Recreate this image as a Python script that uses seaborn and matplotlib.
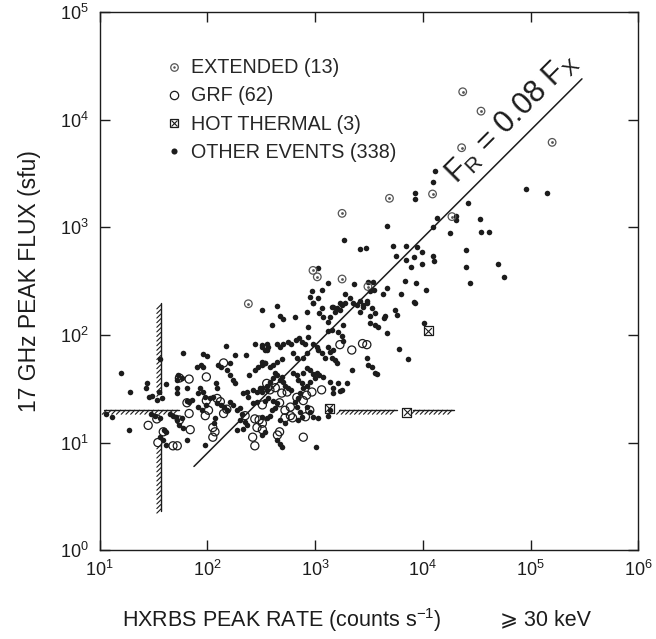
import numpy as np
import matplotlib
matplotlib.use("Agg")
import matplotlib.pyplot as plt
import matplotlib.patheffects as pe
from matplotlib.lines import Line2D
import seaborn as sns

# values, stored as log10 of
# HXRBS peak rate (counts/s) and 17 GHz peak flux (sfu)
OTHER_LOG_RATE = [
    1.20, 1.28, 1.27, 1.11, 1.06, 1.44, 1.43, 1.46, 1.49, 1.53,
    1.55, 1.58, 1.56, 1.62, 1.48, 1.51, 1.56, 1.77, 1.73, 1.76,
    1.72, 1.72, 1.72, 1.81, 1.81, 1.83, 1.86, 1.65, 1.68, 1.71,
    1.72, 1.76, 1.74, 1.77, 1.60, 1.62, 1.56, 1.59, 1.62, 1.81,
    1.98, 1.96, 2.00, 1.90, 1.94, 1.96, 2.17, 2.26, 2.36, 2.44,
    2.51, 2.55, 2.10, 2.13, 2.18, 2.21, 2.24, 2.26, 2.21, 2.08,
    2.09, 1.93, 1.96, 1.91, 1.98, 2.02, 2.05, 1.91, 1.95, 1.99,
    2.09, 2.13, 2.15, 2.21, 2.24, 2.18, 2.27, 2.32, 2.30, 2.33,
    2.37, 2.38, 2.39, 2.44, 2.47, 2.51, 2.53, 2.42, 2.46, 2.49,
    2.51, 2.55, 2.42, 2.46, 2.07, 2.06, 2.27, 2.33, 2.37, 2.30,
    2.35, 2.53, 2.56,
    2.65, 2.51, 2.60, 2.67, 2.70, 2.81, 2.92, 2.98, 3.06, 3.04,
    3.07, 3.16, 3.18, 3.14, 3.12, 3.25, 3.23, 3.28, 3.39, 3.42,
    3.44, 3.48, 3.53, 3.56, 3.51, 3.65, 3.64, 3.74, 3.76, 3.93,
    3.51, 3.56, 3.58, 3.67, 4.01, 3.26, 3.21, 3.16, 3.12, 3.25,
    3.26, 2.93,
    2.51, 2.53, 2.56, 2.55, 2.65, 2.67, 2.70, 2.75, 2.78, 2.82,
    2.85, 2.88, 2.91, 2.93, 2.98, 3.02, 3.03, 3.06, 3.09, 3.12,
    3.14, 3.17, 3.16, 3.18, 3.20, 2.79, 2.83, 2.89, 2.92, 2.65,
    2.61, 2.58, 2.53, 2.51, 2.69,
    2.79, 2.83, 2.89, 2.92, 2.95, 2.98, 3.02, 3.04, 3.07, 2.63,
    2.65, 2.67, 2.69, 2.70, 2.61, 2.58, 2.55, 2.51, 2.72, 2.75,
    2.78, 2.84, 2.88, 2.89, 2.86, 2.84, 2.92, 2.95, 3.00, 2.81,
    2.83, 2.86, 2.88, 2.84, 2.92, 2.95, 2.98, 3.03, 2.61, 2.65,
    2.63, 2.60, 2.58, 2.55, 2.51, 2.67, 2.72, 2.51, 2.53, 2.65,
    2.67, 2.69, 3.01, 3.14, 3.17, 3.21, 3.25, 3.30, 3.34, 3.48,
    3.49, 3.53, 3.56, 3.57, 3.78, 3.86, 3.12, 3.14, 3.23, 3.17,
    4.11, 4.09, 3.93, 3.93, 4.13, 4.09, 3.67, 3.27, 3.42, 3.47,
    3.72, 3.84, 3.75, 3.84, 3.89, 3.92, 3.99, 3.99, 4.09, 4.10,
    3.03, 3.12, 3.36, 3.54, 3.55, 3.67, 3.63, 3.83, 3.94, 3.80,
    3.92, 4.03, 2.97, 3.06, 2.95, 2.98, 3.03, 3.28, 3.23, 3.32,
    3.35, 3.42, 3.44, 3.48, 3.17, 3.20, 4.42, 4.96, 5.15, 4.31,
    4.31, 4.53, 4.25, 4.54, 4.61, 4.40, 4.40, 4.70, 4.75, 4.44,
    3.49, 3.51, 3.95,
]
OTHER_LOG_FLUX = [
    1.65, 1.47, 1.12, 1.24, 1.27, 1.55, 1.51, 1.42, 1.43, 1.40,
    1.47, 1.41, 1.78, 1.54, 1.27, 1.25, 1.23, 1.83, 1.63, 1.60,
    1.58, 1.46, 1.51, 1.51, 1.39, 1.38, 1.40, 1.27, 1.25, 1.24,
    1.21, 1.23, 1.16, 1.14, 1.12, 1.10, 1.05, 1.02, 0.98, 1.02,
    0.98, 1.82, 1.80, 1.70, 1.72, 1.70, 1.90, 1.81, 1.81, 1.92,
    1.89, 1.86, 1.72, 1.70, 1.67, 1.63, 1.58, 1.55, 1.74, 1.55,
    1.51, 1.51, 1.47, 1.46, 1.42, 1.41, 1.42, 1.33, 1.30, 1.35,
    1.37, 1.35, 1.33, 1.38, 1.35, 1.30, 1.30, 1.27, 1.32, 1.46,
    1.47, 1.42, 1.63, 1.67, 1.70, 1.72, 1.74, 1.49, 1.47, 1.51,
    1.47, 1.49, 1.37, 1.38, 1.23, 1.18, 1.12, 1.13, 1.16, 1.21,
    1.19, 1.39, 1.41,
    2.27, 2.23, 2.09, 2.18, 2.15, 2.17, 2.21, 2.30, 2.25, 2.20,
    2.17, 2.26, 2.21, 2.17, 2.12, 2.28, 2.23, 2.30, 2.28, 2.21,
    2.26, 2.30, 2.25, 2.20, 2.18, 2.18, 2.16, 2.23, 2.19, 2.30,
    2.11, 2.09, 2.07, 2.02, 2.11, 2.09, 2.03, 2.05, 2.04, 1.99,
    1.94, 2.07,
    1.91, 1.86, 1.89, 1.92, 1.92, 1.89, 1.92, 1.93, 1.92, 1.95,
    1.97, 1.93, 1.92, 1.98, 1.92, 1.89, 1.86, 1.83, 1.79, 1.89,
    1.84, 1.86, 1.79, 1.77, 1.74, 1.83, 1.79, 1.79, 1.83, 1.75,
    1.72, 1.70, 1.74, 1.75, 1.78,
    1.65, 1.63, 1.65, 1.69, 1.67, 1.64, 1.65, 1.63, 1.61, 1.65,
    1.63, 1.58, 1.61, 1.56, 1.60, 1.56, 1.53, 1.51, 1.53, 1.51,
    1.49, 1.58, 1.55, 1.51, 1.46, 1.41, 1.53, 1.56, 1.60, 1.38,
    1.33, 1.28, 1.24, 1.21, 1.33, 1.28, 1.24, 1.23, 1.39, 1.37,
    1.32, 1.30, 1.25, 1.23, 1.24, 1.21, 1.18, 1.07, 1.10, 1.02,
    0.99, 0.96, 0.96, 1.56, 1.51, 1.55, 1.49, 1.55, 1.67, 1.79,
    1.72, 1.70, 1.65, 1.64, 1.87, 1.78, 1.25, 1.30, 1.48, 1.46,
    3.52, 3.42, 3.32, 3.26, 3.09, 3.00, 3.01, 2.88, 2.80, 2.81,
    2.83, 2.83, 2.73, 2.70, 2.63, 2.72, 2.77, 2.66, 2.73, 2.69,
    2.62, 2.48, 2.47, 2.49, 2.42, 2.44, 2.38, 2.50, 2.48, 2.38,
    2.31, 2.42, 2.41, 2.42, 2.35, 2.30, 2.34, 2.38, 2.30, 2.34,
    2.30, 2.32, 2.28, 2.32, 2.26, 2.25, 3.23, 3.36, 3.32, 3.11,
    3.07, 3.08, 2.95, 2.96, 2.96, 2.79, 2.63, 2.66, 2.54, 2.48,
    2.49, 2.41, 2.82,
]

GRF_LOG_RATE = [
    1.83, 1.74, 1.99, 2.15, 1.81, 1.83, 1.45, 1.53, 1.59, 1.54,
    1.68, 1.72, 1.74, 1.84, 1.99, 2.01, 2.09, 2.12, 1.98, 2.05,
    2.07, 2.05, 2.15, 2.18, 2.35, 2.44, 2.48, 2.51, 2.46, 2.51,
    2.42, 2.44, 2.51, 3.23, 3.34, 3.44, 3.48, 3.06, 2.97, 2.55,
    2.58, 2.63, 2.69, 2.74, 2.67, 2.72, 2.77, 2.83, 2.89, 2.92,
    2.72, 2.77, 2.79, 2.91, 2.95, 2.67, 2.65, 2.89,
]
GRF_LOG_FLUX = [
    1.59, 1.60, 1.61, 1.74, 1.37, 1.27, 1.16, 1.22, 1.10, 1.00,
    0.97, 0.97, 1.21, 1.12, 1.39, 1.30, 1.41, 1.38, 1.25, 1.14,
    1.10, 1.05, 1.27, 1.31, 1.25, 1.22, 1.21, 1.18, 1.14, 1.12,
    1.05, 0.97, 1.35, 1.91, 1.86, 1.92, 1.91, 1.49, 1.47, 1.55,
    1.49, 1.51, 1.46, 1.47, 1.37, 1.30, 1.33, 1.42, 1.39, 1.44,
    1.23, 1.25, 1.23, 1.24, 1.30, 1.10, 1.07, 1.05,
]

EXT_LOG_RATE = [4.37, 4.54, 4.36, 5.20, 3.25, 3.69, 4.09, 4.27, 2.98, 3.02,
                3.25, 3.49, 2.38]
EXT_LOG_FLUX = [4.26, 4.08, 3.74, 3.79, 3.13, 3.27, 3.31, 3.10, 2.60, 2.54,
                2.52, 2.45, 2.29]

HOT_LOG_RATE = [3.13, 3.85, 4.05]
HOT_LOG_FLUX = [1.32, 1.28, 2.04]

LEGEND_LABELS = ["EXTENDED (13)", "GRF (62)", "HOT THERMAL (3)",
                 "OTHER EVENTS (338)"]

# Fr = 0.08 Fx
RATIO = 0.08
FIT_RATE = [75, 3.0e5]

# detection limits (hatched)
LIMIT_FLUX = 20
LIMIT_RATE = 37
H_LIMITS = [[11, 55], [1650, 5700], [8100, 19500]]
V_LIMITS = [[2.3, 10], [28, 200]]

INK = "#1c1c1c"


def to_lin(vals):
    ''' log10 values -> linear '''
    return 10 ** np.array(vals)


def main():
    sns.set_style("ticks")
    plt.rcParams["font.family"] = ["Liberation Sans", "DejaVu Sans"]
    plt.rcParams["mathtext.default"] = "regular"

    fig = plt.figure(figsize=(6.56, 6.39), dpi=100)
    ax = fig.add_axes([0.152, 0.139, 0.821, 0.842])
    ax.set_xscale("log")
    ax.set_yscale("log")
    ax.set_xlim(10, 1e6)
    ax.set_ylim(1, 1e5)

    # hatched limit lines
    for seg in H_LIMITS:
        ax.plot(seg, [LIMIT_FLUX, LIMIT_FLUX], color=INK, lw=1.0,
                path_effects=[pe.withTickedStroke(angle=-135, spacing=3.2,
                                                  length=1.3, linewidth=0.8)])
    for seg in V_LIMITS:
        ax.plot([LIMIT_RATE, LIMIT_RATE], seg, color=INK, lw=1.0,
                path_effects=[pe.withTickedStroke(angle=135, spacing=3.2,
                                                  length=1.3, linewidth=0.8)])

    # fit line
    fit_x = np.array(FIT_RATE)
    ax.plot(fit_x, RATIO * fit_x, color=INK, lw=1.1)

    sns.scatterplot(x=to_lin(OTHER_LOG_RATE), y=to_lin(OTHER_LOG_FLUX),
                    ax=ax, color=INK, s=16, marker="o", linewidth=0)
    sns.scatterplot(x=to_lin(GRF_LOG_RATE), y=to_lin(GRF_LOG_FLUX),
                    ax=ax, color="none", edgecolor=INK, s=34, marker="o",
                    linewidth=0.9)
    sns.scatterplot(x=to_lin(EXT_LOG_RATE), y=to_lin(EXT_LOG_FLUX),
                    ax=ax, color="none", edgecolor="#555555", s=30,
                    marker="o", linewidth=0.9)
    sns.scatterplot(x=to_lin(EXT_LOG_RATE), y=to_lin(EXT_LOG_FLUX),
                    ax=ax, color="#555555", s=4, marker="o", linewidth=0)
    sns.scatterplot(x=to_lin(HOT_LOG_RATE), y=to_lin(HOT_LOG_FLUX),
                    ax=ax, color="none", edgecolor=INK, s=42, marker="s",
                    linewidth=0.9)
    sns.scatterplot(x=to_lin(HOT_LOG_RATE), y=to_lin(HOT_LOG_FLUX),
                    ax=ax, color=INK, s=24, marker="x", linewidth=0.8)

    # legend
    h_ext = (Line2D([], [], ls="", marker="o", ms=5.4, mfc="none",
                    mec="#555555", mew=0.9),
             Line2D([], [], ls="", marker="o", ms=1.8, mfc="#555555",
                    mec="none"))
    h_grf = Line2D([], [], ls="", marker="o", ms=6.0, mfc="none", mec=INK,
                   mew=0.9)
    h_hot = (Line2D([], [], ls="", marker="s", ms=6.4, mfc="none", mec=INK,
                    mew=0.9),
             Line2D([], [], ls="", marker="x", ms=4.8, mec=INK, mew=0.8))
    h_oth = Line2D([], [], ls="", marker="o", ms=4.4, mfc=INK, mec="none")
    ax.legend([h_ext, h_grf, h_hot, h_oth], LEGEND_LABELS,
              loc="upper left", bbox_to_anchor=(0.120, 0.914),
              frameon=False, fontsize=14.2, handlelength=0.95,
              handletextpad=0.4, labelspacing=0.46, borderpad=0,
              borderaxespad=0)

    # annotation along the fit line
    fig.canvas.draw()
    p1 = ax.transData.transform((fit_x[0], RATIO * fit_x[0]))
    p2 = ax.transData.transform((fit_x[1], RATIO * fit_x[1]))
    ang = np.degrees(np.arctan2(p2[1] - p1[1], p2[0] - p1[0]))
    xa = 9.3e4
    ax.annotate(r"F$_{R}$ = 0.08 F$_{X}$", xy=(xa, RATIO * xa),
                xytext=(-3, 3), textcoords="offset points",
                rotation=ang, rotation_mode="anchor", ha="center",
                va="bottom", fontsize=22, color=INK)

    # axes look
    for sp in ax.spines.values():
        sp.set_color(INK)
        sp.set_linewidth(1.0)
    ax.minorticks_off()
    ax.tick_params(which="major", direction="in", length=7, width=1.0,
                   color=INK, top=True, right=True, labelsize=13,
                   labelcolor=INK)
    ax.tick_params(axis="x", pad=7)
    ax.tick_params(axis="y", pad=8)

    fig.text(30 / 656, 1 - 281 / 639, "17 GHz PEAK FLUX (sfu)",
             rotation=90, ha="center", va="center", fontsize=16.5,
             color=INK)
    fig.text(282 / 656, 1 - 620 / 639,
             r"HXRBS PEAK RATE (counts s$^{-1}$)",
             ha="center", va="center", fontsize=15.5, color=INK)
    fig.text(545 / 656, 1 - 620 / 639, "\u2a7e 30 keV",
             ha="center", va="center", fontsize=15.5, color=INK)

    fig.savefig("out.png", dpi=100, facecolor="white")


if __name__ == "__main__":
    main()
